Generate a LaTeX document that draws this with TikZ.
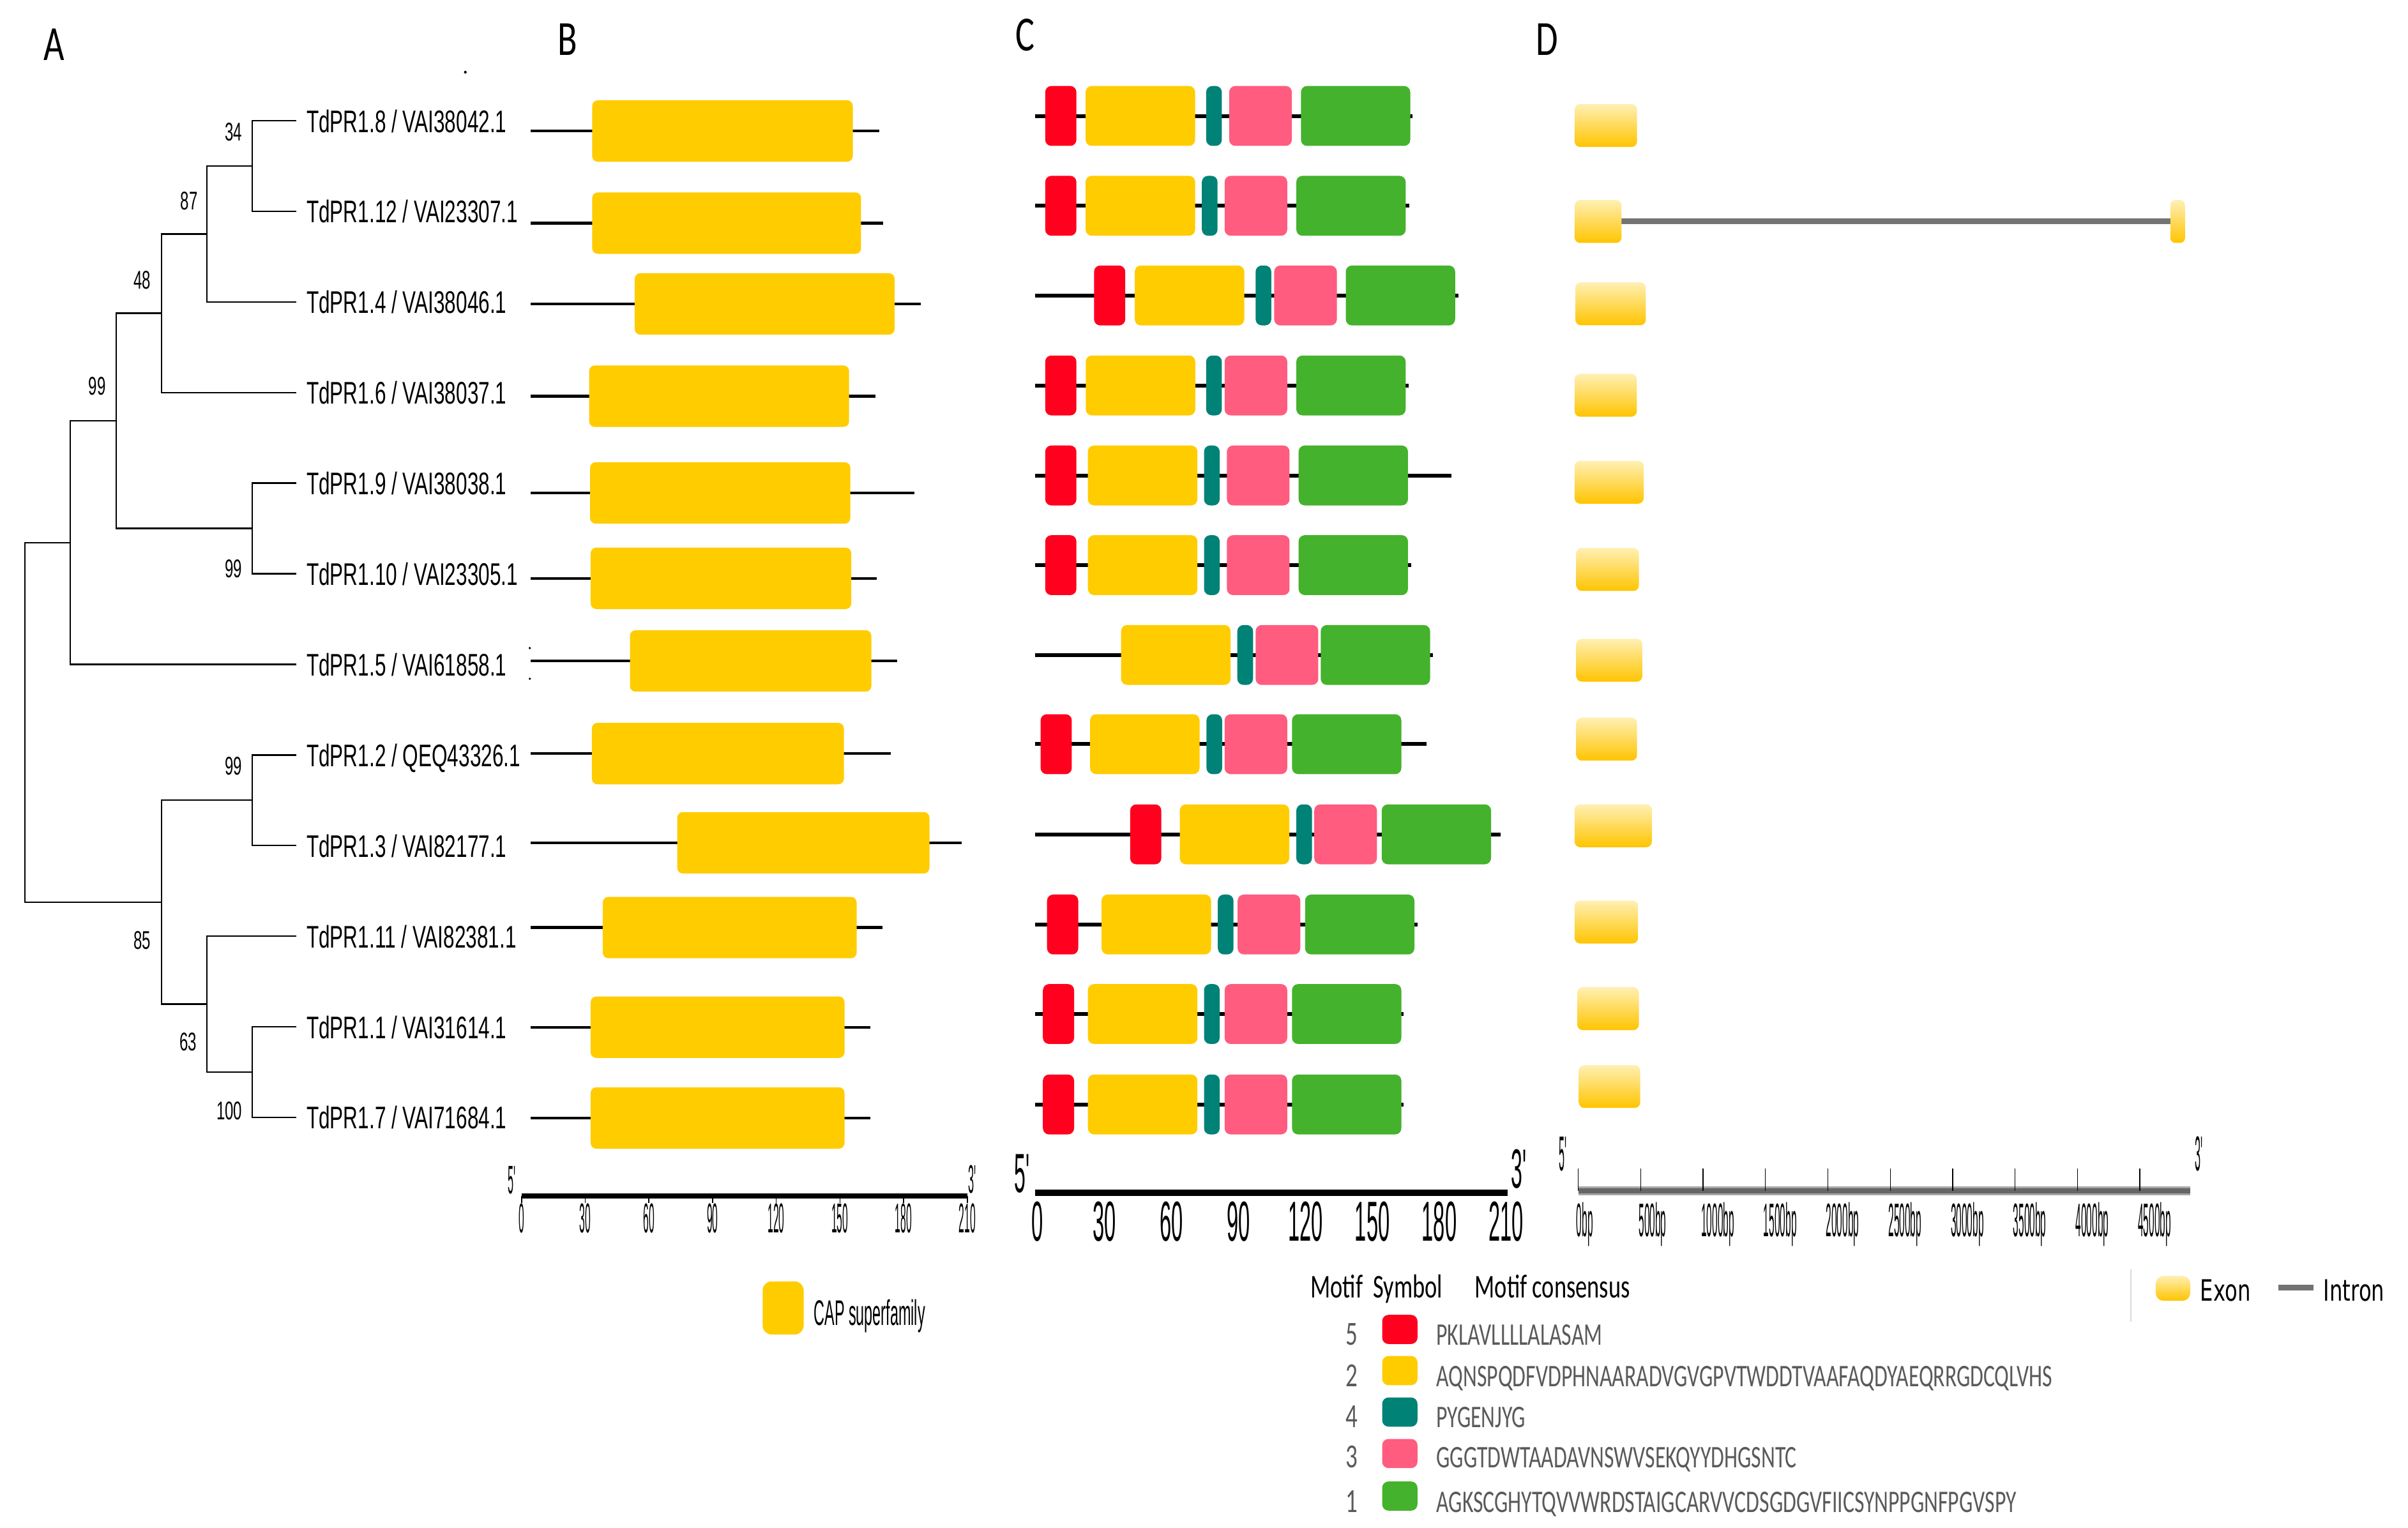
\documentclass[tikz,border=0pt]{standalone}
\usepackage{fontspec}
\usepackage{tikz}
\newfontfamily\leaffont[FakeStretch=0.645]{Liberation Sans}
\newfontfamily\bootfont[FakeStretch=0.6]{Liberation Sans}
\newfontfamily\btickfont[FakeStretch=0.24]{Liberation Sans}
\newfontfamily\ctickfont[FakeStretch=0.37]{Liberation Sans}
\newfontfamily\dtickfont[FakeStretch=0.21]{Liberation Sans}
\newfontfamily\primefont[FakeStretch=0.26]{Liberation Sans}
\newfontfamily\capfont[FakeStretch=0.42]{Liberation Sans}
\newfontfamily\motiffont[FakeStretch=0.7]{Carlito}
\newfontfamily\seqfont[FakeStretch=0.685]{Carlito}
\newfontfamily\panelfont[FakeStretch=0.73]{Carlito}
\newfontfamily\exonfont[FakeStretch=0.7]{DejaVu Sans}

\definecolor{motifred}{RGB}{255,0,30}
\definecolor{motifyellow}{RGB}{255,204,0}
\definecolor{motifteal}{RGB}{0,130,118}
\definecolor{motifpink}{RGB}{255,92,128}
\definecolor{motifgreen}{RGB}{68,178,44}
\definecolor{exontop}{RGB}{255,240,180}
\definecolor{exonbot}{RGB}{255,196,0}
\definecolor{introngray}{RGB}{115,115,115}
\definecolor{seqgray}{RGB}{90,90,90}

\tikzset{
	branch/.style={line width=0.6pt},
	leaflabel/.style={anchor=base west, inner sep=0pt, font=\leaffont\fontsize{12.2}{14}\selectfont},
	boot/.style={anchor=base east, inner sep=0pt, font=\bootfont\fontsize{10}{12}\selectfont},
	bline/.style={line width=1.1pt},
	cline/.style={line width=1.5pt},
	capbox/.style={fill=motifyellow, rounded corners=2.2pt},
	motif/.style={rounded corners=2.4pt},
	exon/.style={top color=exontop, bottom color=exonbot, rounded corners=2.2pt},
	intronline/.style={introngray, line width=2.2pt},
	btick/.style={anchor=base, inner sep=0pt, font=\btickfont\fontsize{16.3}{18}\selectfont},
	ctick/.style={anchor=base, inner sep=0pt, font=\ctickfont\fontsize{22}{24}\selectfont},
	dtick/.style={anchor=base west, inner sep=0pt, font=\dtickfont\fontsize{18.4}{20}\selectfont},
	prime/.style={inner sep=0pt, font=\primefont\fontsize{16}{18}\selectfont},
	panel/.style={anchor=base west, inner sep=0pt, font=\panelfont\fontsize{19.2}{22}\selectfont},
	mhead/.style={anchor=base west, inner sep=0pt, font=\motiffont\fontsize{13}{15}\selectfont},
	mnum/.style={anchor=base, inner sep=0pt, text=seqgray, font=\motiffont\fontsize{13.2}{15}\selectfont},
	mseq/.style={anchor=base west, inner sep=0pt, text=seqgray, font=\seqfont\fontsize{12.3}{14}\selectfont},
	caplabel/.style={anchor=base west, inner sep=0pt, font=\capfont\fontsize{13.9}{16}\selectfont},
	exlabel/.style={anchor=base west, inner sep=0pt, font=\exonfont\fontsize{11.5}{13}\selectfont}
}

\begin{document}
\begin{tikzpicture}[x=0.6pt, y=-0.6pt]
	\useasboundingbox (0,0) rectangle (1568,995);

	\node[panel] (pA) at (28.2,39.2) {A};
	\node[panel] (pB) at (363,36) {B};
	\node[panel] (pC) at (661,33) {C};
	\node[panel] (pD) at (1000,36) {D};
	\fill (303,47) circle (0.9);

	% tree
	\foreach \ly/\lname [count=\k from 0] in {
		78.6/{TdPR1.8 / VAI38042.1}, 137.6/{TdPR1.12 / VAI23307.1}, 196.6/{TdPR1.4 / VAI38046.1},
		255.6/{TdPR1.6 / VAI38037.1}, 314.6/{TdPR1.9 / VAI38038.1}, 373.6/{TdPR1.10 / VAI23305.1},
		432.6/{TdPR1.5 / VAI61858.1}, 491.6/{TdPR1.2 / QEQ43326.1}, 550.6/{TdPR1.3 / VAI82177.1},
		609.6/{TdPR1.11 / VAI82381.1}, 668.6/{TdPR1.1 / VAI31614.1}, 727.6/{TdPR1.7 / VAI71684.1}}{
		\coordinate (l\k) at (192.9,\ly);
		\node[leaflabel] (t\k) at (199.3,\ly+7.5) {\lname};
	}
	\coordinate (n34) at (164.2,108.1);
	\coordinate (n87) at (134.8,152.35);
	\coordinate (n48) at (105.2,204.0);
	\coordinate (n910) at (164.2,344.1);
	\coordinate (n99) at (75.7,274.0);
	\coordinate (n15) at (45.8,353.3);
	\coordinate (n23) at (164.2,521.1);
	\coordinate (n17) at (164.2,698.1);
	\coordinate (n63) at (134.8,653.85);
	\coordinate (n85) at (105.2,587.5);
	\coordinate (root) at (16.2,470.4);
	\foreach \p/\c in {n34/l0,n34/l1,n87/n34,n87/l2,n48/n87,n48/l3,n910/l4,n910/l5,n99/n48,n99/n910,
		n15/n99,n15/l6,n23/l7,n23/l8,n17/l10,n17/l11,n63/l9,n63/n17,n85/n23,n85/n63,root/n15,root/n85}
		\draw[branch] (\p) |- (\c);
	\foreach \bx/\by/\bv/\bn in {158/91.5/34/b34, 129/136.5/87/b87, 98.5/188.3/48/b48, 69.2/257.2/99/b99,
		158/376/99/b910, 158/504.6/99/b23, 98.5/618.2/85/b85, 128.5/684.3/63/b63, 158/729/100/b17}
		\node[boot] (\bn) at (\bx,\by) {\bv};

	% CAP domains
	\foreach \ya/\xa/\xb/\xc in {85.3/385.6/555.3/572.5, 145.3/385.6/560.7/575.1, 197.9/413.3/582.5/599.7,
		258/383.6/552.9/570, 321/384.2/553.7/595.3, 376.6/384.6/554.3/571, 430.4/410.2/567.4/584.2,
		490.7/385.4/549.5/580, 548.8/441/605.2/626.3, 604/392.5/557.8/574.5, 668.9/384.6/549.9/566.9,
		728/384.6/549.9/566.9}{
		\draw[bline] (345.7,\ya) -- (\xc,\ya);
		\fill[capbox] (\xa,\ya-20) rectangle (\xb,\ya+20);
	}
	\fill (345,422) circle (0.8);
	\fill (345,442) circle (0.8);
	\draw[line width=1.8pt] (339.6,778.8) -- (629.8,778.8);
	\foreach \v [count=\i from 0] in {0,30,...,210}{
		\draw[line width=0.4pt] (339.6+41.46*\i,778.8) -- ++(0,4.5);
		\node[btick] (bt\i) at (339.6+41.46*\i,802.5) {\v};
	}
	\node[prime, anchor=base east, font=\primefont\fontsize{15.6}{17}\selectfont] (b5) at (340,777.5) {5\textquotesingle};
	\node[prime, anchor=base west, font=\primefont\fontsize{15.6}{17}\selectfont] (b3) at (630.4,777) {3\textquotesingle};
	\fill[capbox, rounded corners=3.5pt] (496.6,834.4) rectangle (523.3,869);
	\node[caplabel] (cap) at (529.6,862.8) {CAP superfamily};

	% motifs
	\foreach \my/\me/\ma/\mb/\mc/\md/\mf in {
		75.5/919.8/680.6/706.9/785.4/800.4/847.1, 134/917.7/680.6/706.9/782.6/797.4/844.1,
		192.4/949.5/712.4/738.9/817.6/829.7/876.3, 251/917.3/680.6/707/785.4/797.4/844.1,
		309.6/945.3/680.6/708.4/784/798.9/845.6, 368/918.8/680.6/708.4/784/798.9/845.6,
		426.5/933/0/730/805.7/817.6/860, 484.6/929/677.6/709.8/785.6/797.4/841.3,
		543.3/977.1/735.9/768.2/844.1/855.8/899.7, 602/923/681.8/717.3/793/805.9/849.8,
		660.3/913.9/679.1/708.4/784/797.4/841.3, 719.2/913.9/679.1/708.4/784/797.4/841.3}{
		\draw[cline] (673.8,\my) -- (\me,\my);
		\ifdim\ma pt>1pt \fill[motif, motifred] (\ma,\my-19.5) rectangle ++(20.3,39); \fi
		\fill[motif, motifyellow] (\mb,\my-19.5) rectangle ++(71.3,39);
		\fill[motif, motifteal] (\mc,\my-19.5) rectangle ++(10.2,39);
		\fill[motif, motifpink] (\md,\my-19.5) rectangle ++(40.8,39);
		\fill[motif, motifgreen] (\mf,\my-19.5) rectangle ++(71.2,39);
	}
	\draw[line width=2.4pt] (673.9,776.8) -- (981.6,776.8);
	\foreach \v [count=\i from 0] in {0,30,...,210}
		\node[ctick] (ct\i) at (675.6+43.6*\i,808) {\v};
	\node[prime, anchor=base east, font=\ctickfont\fontsize{21.6}{24}\selectfont] (c5) at (675,776.5) {5\textquotesingle};
	\node[prime, anchor=base west, font=\ctickfont\fontsize{21.6}{24}\selectfont] (c3) at (983.6,773.5) {3\textquotesingle};

	\node[mhead] (mh1) at (853,845) {Motif\ \ Symbol};
	\node[mhead] (mh2) at (960,845) {Motif consensus};
	\foreach \mn/\mcol/\mby/\mty/\mseqtext [count=\i] in {
		5/motifred/865.7/876/PKLAVLLLLALASAM,
		2/motifyellow/892.5/903/AQNSPQDFVDPHNAARADVGVGPVTWDDTVAAFAQDYAEQRRGDCQLVHS,
		4/motifteal/919.5/929.5/PYGENJYG,
		3/motifpink/946.5/955.5/GGGTDWTAADAVNSWVSEKQYYDHGSNTC,
		1/motifgreen/974.2/985/AGKSCGHYTQVVWRDSTAIGCARVVCDSGDGVFIICSYNPPGNFPGVSPY}{
		\node[mnum] (mn\i) at (880,\mty) {\mn};
		\fill[\mcol, rounded corners=2.5pt] (900,\mby-9.5) rectangle (923,\mby+9.5);
		\node[mseq] (ms\i) at (935,\mty) {\mseqtext};
	}

	% gene structure
	\coordinate (e1a) at (1055.9,144.2);
	\coordinate (e1b) at (1413.2,144.2);
	\draw[intronline] (e1a) -- (e1b);
	\foreach \ey/\ea/\eb in {81.7/1025.3/1066, 144.2/1025.3/1055.9, 197.8/1025.8/1071.7, 257.4/1025.3/1065.8,
		314/1025.3/1070.3, 370.8/1026.4/1067.2, 429.9/1026.4/1069.4, 481.3/1026.4/1066,
		537.7/1025.3/1075.6, 600.4/1025.3/1066.6, 656.8/1027/1067.2, 707.5/1028.1/1068}
		\shade[exon] (\ea,\ey-14) rectangle (\eb,\ey+14);
	\shade[exon, rounded corners=2pt] (1413.2,130.2) rectangle (1422.8,158.2);
	\draw[black!35, line width=3.6pt] (1027.7,775.5) -- (1426.2,775.5);
	\draw[black!60, line width=1.8pt] (1027.7,775.5) -- (1426.2,775.5);
	\foreach \v [count=\i from 0] in {0bp,500bp,1000bp,1500bp,2000bp,2500bp,3000bp,3500bp,4000bp,4500bp}{
		\draw[line width=0.3pt] (1027.7+40.63*\i,760.9) -- ++(0,14.6);
		\node[dtick] (dt\i) at (1026.2+40.63*\i,805.3) {\v};
	}
	\node[prime, anchor=base east, font=\dtickfont\fontsize{19.2}{21}\selectfont] (d5) at (1025.2,762.3) {5\textquotesingle};
	\node[prime, anchor=base west, font=\dtickfont\fontsize{19.2}{21}\selectfont] (d3) at (1428.8,762.3) {3\textquotesingle};

	\draw[black!15, line width=0.5pt] (1387.4,826.6) -- (1387.4,860.7);
	\shade[exon, rounded corners=3pt] (1403.7,830.8) rectangle (1426.2,847);
	\node[exlabel] (exon) at (1432.4,847.1) {Exon};
	\coordinate (i1) at (1483.6,838.5);
	\coordinate (i2) at (1506.4,838.5);
	\draw[introngray, line width=2.1pt] (i1) -- (i2);
	\node[exlabel] (intron) at (1512.7,847) {Intron};
\end{tikzpicture}
\end{document}
